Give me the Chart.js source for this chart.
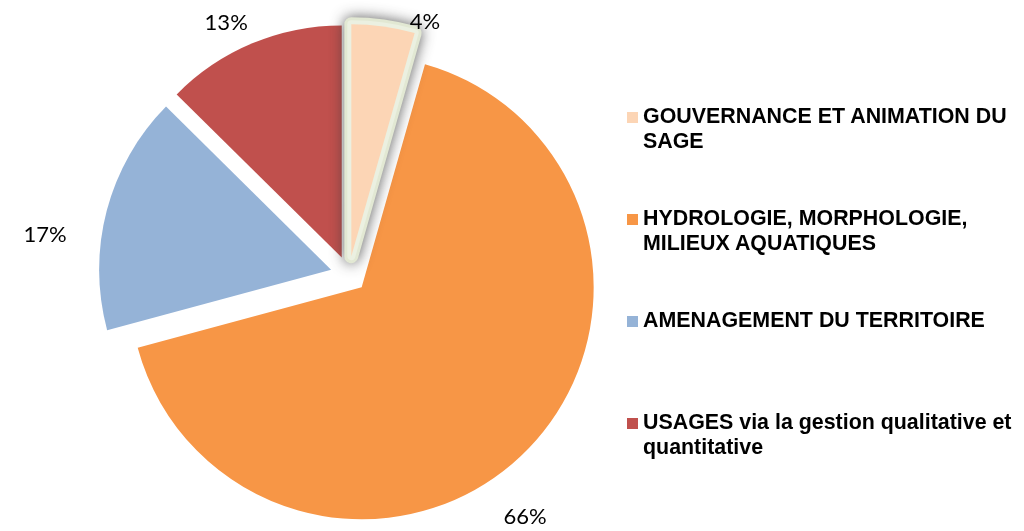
<!DOCTYPE html>
<html lang="fr">
<head>
<meta charset="utf-8">
<script src="https://cdn.jsdelivr.net/npm/chart.js@4.4.1/dist/chart.umd.min.js"></script>
<style>
  html, body { margin: 0; padding: 0; background: #ffffff; }
  #wrap { position: relative; width: 1024px; height: 531px; overflow: hidden; }
  #pie { position: absolute; left: 0; top: 0; }
  .legend-item { position: absolute; left: 627px; width: 397px;
    font: bold 21.4px "Liberation Sans", Arial, sans-serif; line-height: 25px; color: #000; }
  .legend-item .swatch { position: absolute; left: 0; top: 8px; width: 11px; height: 11px; }
  .legend-item .text { margin-left: 16px; width: 381px; }
</style>
</head>
<body>
<div id="wrap">
  <canvas id="pie" width="1024" height="531"></canvas>
  <div id="legend"></div>
</div>
<script>
// Budget breakdown by theme (percent of total)
const categories = [
  'GOUVERNANCE ET ANIMATION DU SAGE',
  'HYDROLOGIE, MORPHOLOGIE, MILIEUX AQUATIQUES',
  'AMENAGEMENT DU TERRITOIRE',
  'USAGES via la gestion qualitative et quantitative'
];
const shares = [4.4, 66.4, 16.6, 12.6];
const sliceColors = ['#FCD5B5', '#F79646', '#95B3D7', '#C0504D'];

// Slice styling: every slice pulled out from the centre, first one glowing
const explode = 18.3;
const glowing = [true, false, false, false];

// Percentage labels: angular nudge (deg) and distance from the slice tip
const labelAngleNudge = [9.5, 9.2, -7.9, -3.6];
const labelDistance = [246, 282, 288, 261];

const total = shares.reduce((a, b) => a + b, 0);

function sliceCentre(arc) {
  const p = arc.getProps(['x', 'y', 'startAngle', 'endAngle', 'outerRadius'], true);
  const mid = (p.startAngle + p.endAngle) / 2;
  return { ...p, mid, cx: p.x + Math.cos(mid) * explode, cy: p.y + Math.sin(mid) * explode };
}

const explodedPie = {
  id: 'explodedPie',
  beforeDatasetDraw(chart, args) {
    const ctx = chart.ctx;
    const arcs = args.meta.data;
    const order = arcs.map((a, i) => i).sort((a, b) => (glowing[a] ? 1 : 0) - (glowing[b] ? 1 : 0));
    order.forEach(i => {
      const arc = arcs[i];
      const s = sliceCentre(arc);
      ctx.save();
      ctx.beginPath();
      ctx.moveTo(s.cx, s.cy);
      ctx.arc(s.cx, s.cy, s.outerRadius, s.startAngle, s.endAngle);
      ctx.closePath();
      if (glowing[i]) {
        // soft grey halo, then a pale green rim around the slice
        ctx.lineJoin = 'round';
        ctx.shadowColor = 'rgba(60,60,60,0.85)';
        ctx.shadowBlur = 14;
        ctx.lineWidth = 14;
        ctx.strokeStyle = '#E2E8D3';
        ctx.stroke();
        ctx.shadowColor = 'rgba(0,0,0,0)';
        ctx.shadowBlur = 0;
        ctx.lineWidth = 8;
        ctx.strokeStyle = '#EBF0E1';
        ctx.stroke();
      }
      ctx.fillStyle = arc.options.backgroundColor;
      ctx.fill();
      ctx.restore();
    });
    return false;
  },
  afterDatasetsDraw(chart) {
    const ctx = chart.ctx;
    const meta = chart.getDatasetMeta(0);
    const values = chart.data.datasets[0].data;
    ctx.save();
    ctx.font = '22px Lato, "Open Sans", sans-serif';
    ctx.fillStyle = '#000000';
    ctx.textAlign = 'center';
    ctx.textBaseline = 'middle';
    meta.data.forEach((arc, i) => {
      const s = sliceCentre(arc);
      const a = s.mid + labelAngleNudge[i] * Math.PI / 180;
      const lx = s.cx + Math.cos(a) * labelDistance[i];
      const ly = s.cy + Math.sin(a) * labelDistance[i];
      ctx.fillText(Math.round(values[i] / total * 100) + '%', lx, ly);
    });
    ctx.restore();
  }
};

new Chart(document.getElementById('pie'), {
  type: 'pie',
  data: {
    labels: categories,
    datasets: [{
      data: shares,
      backgroundColor: sliceColors,
      borderWidth: 0
    }]
  },
  options: {
    responsive: false,
    devicePixelRatio: 1,
    animation: false,
    radius: 232,
    layout: { padding: { left: 0, right: 326.4, top: 17.6, bottom: 0 } },
    plugins: {
      legend: { display: false },
      tooltip: { enabled: false }
    }
  },
  plugins: [explodedPie]
});

// Legend on the right
const legendTops = [104, 206, 308, 410];
const legend = document.getElementById('legend');
categories.forEach((name, i) => {
  const item = document.createElement('div');
  item.className = 'legend-item';
  item.style.top = legendTops[i] + 'px';
  const sw = document.createElement('div');
  sw.className = 'swatch';
  sw.style.background = sliceColors[i];
  const tx = document.createElement('div');
  tx.className = 'text';
  tx.textContent = name;
  item.appendChild(sw);
  item.appendChild(tx);
  legend.appendChild(item);
});
</script>
</body>
</html>
